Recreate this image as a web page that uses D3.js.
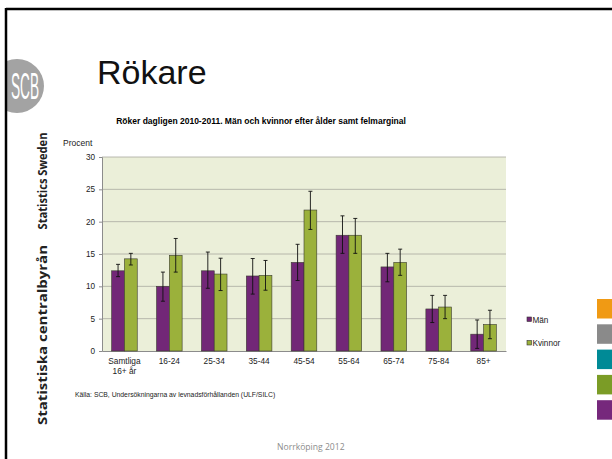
<!DOCTYPE html>
<html>
  <head>
    <title>Rökare</title>
    <style>
      body { margin: 0; background: #fff; }
      svg { display: block; font-family: "Liberation Sans", Arial, sans-serif; }
    </style>
  </head>
  <body>
    <svg class='chart'></svg>
    <script type="text/javascript" src="https://d3js.org/d3.v7.min.js"></script>
    <script type="text/javascript">

// data
var categories = ["Samtliga\n16+ år", "16-24", "25-34", "35-44", "45-54", "55-64", "65-74", "75-84", "85+"]
var series = ["Män", "Kvinnor"]
var man = [12.4, 10.0, 12.4, 11.6, 13.7, 17.9, 13.0, 6.5, 2.6]
var manLow = [11.5, 7.7, 9.7, 8.8, 10.9, 15.1, 10.7, 4.4, 0.4]
var manHigh = [13.4, 12.2, 15.3, 14.3, 16.5, 20.9, 15.1, 8.6, 4.8]
var kvinnor = [14.25, 14.8, 11.9, 11.7, 21.8, 17.9, 13.7, 6.8, 4.1]
var kvinnorLow = [13.3, 12.2, 9.35, 9.4, 18.8, 15.1, 11.7, 5.0, 1.9]
var kvinnorHigh = [15.1, 17.4, 14.35, 14.0, 24.7, 20.5, 15.75, 8.6, 6.3]
var yTicks = [0, 5, 10, 15, 20, 25, 30]
var sideColors = ["#f09a14", "#8a8a8a", "#008a96", "#7b9c26", "#76287c"]

var width = 612
var height = 459
var colors = {"Män": "#722777", "Kvinnor": "#9bb13b"}

var svg = d3.select(".chart")
    .attr("width", width)
    .attr("height", height)

// slide frame
svg.append("line").attr("x1", 6).attr("x2", width).attr("y1", 9).attr("y2", 9)
    .attr("stroke", "#000").attr("stroke-width", 2.5)

// SCB logo, cut by the frame
svg.append("clipPath").attr("id", "logoclip")
    .append("rect").attr("x", 6).attr("y", 0).attr("width", 60).attr("height", 200)
svg.append("circle").attr("cx", 17).attr("cy", 86).attr("r", 27)
    .attr("fill", "#a3a3a3").attr("clip-path", "url(#logoclip)")
svg.append("text")
    .attr("transform", "translate(25,99) scale(0.38,1)")
    .attr("text-anchor", "middle")
    .attr("fill", "#fff")
    .style("font-size", "36px")
    .text("SCB")

svg.append("line").attr("x1", 6).attr("x2", 6).attr("y1", 8).attr("y2", height)
    .attr("stroke", "#000").attr("stroke-width", 2.5)

// vertical brand texts
svg.append("text")
    .attr("transform", "translate(47,181) rotate(-90)")
    .attr("text-anchor", "middle")
    .attr("fill", "#222")
    .style("font-family", "'Open Sans', sans-serif")
    .style("font-weight", "bold")
    .style("font-size", "12.5px")
    .attr("textLength", 97)
    .attr("lengthAdjust", "spacingAndGlyphs")
    .text("Statistics Sweden")
svg.append("text")
    .attr("transform", "translate(47,335) rotate(-90)")
    .attr("text-anchor", "middle")
    .attr("fill", "#222")
    .style("font-family", "'Open Sans', sans-serif")
    .style("font-weight", "bold")
    .style("font-size", "12.5px")
    .attr("textLength", 180)
    .attr("lengthAdjust", "spacingAndGlyphs")
    .text("Statistiska centralbyrån")

// coloured squares on the right
svg.append("g").selectAll("rect")
    .data(sideColors)
    .enter().append("rect")
    .attr("x", 597)
    .attr("y", function(d, i) { return 299 + i * 25.3 })
    .attr("width", 16)
    .attr("height", 19.5)
    .attr("fill", function(d) { return d })

svg.append("text")
    .attr("x", 97).attr("y", 84)
    .style("font-size", "34px")
    .attr("fill", "#111")
    .text("Rökare")

svg.append("text")
    .attr("x", 261).attr("y", 124)
    .attr("text-anchor", "middle")
    .style("font-size", "8.5px")
    .style("font-weight", "bold")
    .text("Röker dagligen 2010-2011. Män och kvinnor efter ålder samt felmarginal")

svg.append("text")
    .attr("x", 63).attr("y", 146)
    .style("font-size", "8.5px")
    .attr("fill", "#222")
    .text("Procent")

// plot
var plot = {left: 102, right: 506, top: 157, bottom: 351}

var x0 = d3.scaleBand()
    .domain(categories)
    .range([plot.left, plot.right])
    .paddingInner(0.43)
    .paddingOuter(0.215)

var x1 = d3.scaleBand()
    .domain(series)
    .range([0, x0.bandwidth()])

var y = d3.scaleLinear()
    .domain([0, 30])
    .range([plot.bottom, plot.top])

svg.append("rect")
    .attr("x", plot.left).attr("y", plot.top)
    .attr("width", plot.right - plot.left)
    .attr("height", plot.bottom - plot.top)
    .attr("fill", "#ebefd9")

svg.append("g").selectAll("line")
    .data(yTicks.slice(1))
    .enter().append("line")
    .attr("x1", plot.left).attr("x2", plot.right)
    .attr("y1", function(d) { return y(d) }).attr("y2", function(d) { return y(d) })
    .attr("stroke", "#a8a8a0").attr("stroke-width", 0.8)

var yAxis = svg.append("g")
    .attr("transform", "translate(" + plot.left + ",0)")
    .call(d3.axisLeft(y).tickValues(yTicks).tickSize(3).tickPadding(4))
yAxis.select(".domain").attr("stroke", "#8c8c8c")
yAxis.selectAll(".tick line").attr("stroke", "#8c8c8c")
yAxis.selectAll("text").style("font-size", "8.2px").attr("fill", "#222")
    .style("font-family", "'Liberation Sans', Arial, sans-serif")

var xAxis = svg.append("g")
    .attr("transform", "translate(0," + plot.bottom + ")")
    .call(d3.axisBottom(x0).tickSize(0).tickPadding(7))
xAxis.select(".domain").attr("stroke", "#8c8c8c")
xAxis.selectAll("text")
    .style("font-size", "8.3px").attr("fill", "#222")
    .style("font-family", "'Liberation Sans', Arial, sans-serif")
    .each(function(d) {
        var t = d3.select(this)
        var lines = d.split("\n")
        t.text(null)
        lines.forEach(function(l, i) {
            t.append("tspan").attr("x", 0).attr("dy", i == 0 ? "0.71em" : "1.2em").text(l)
        })
    })

var rows = categories.map(function(c, i) {
    return [
        {cat: c, s: "Män", v: man[i], lo: manLow[i], hi: manHigh[i]},
        {cat: c, s: "Kvinnor", v: kvinnor[i], lo: kvinnorLow[i], hi: kvinnorHigh[i]}
    ]
})

var groups = svg.append("g").selectAll("g")
    .data(rows)
    .enter().append("g")
    .attr("transform", function(d, i) { return "translate(" + x0(categories[i]) + ",0)" })

groups.selectAll("rect")
    .data(function(d) { return d })
    .enter().append("rect")
    .attr("x", function(d) { return x1(d.s) })
    .attr("y", function(d) { return y(d.v) })
    .attr("width", x1.bandwidth())
    .attr("height", function(d) { return y(0) - y(d.v) })
    .attr("fill", function(d) { return colors[d.s] })
    .attr("stroke", "#3a3a30")
    .attr("stroke-width", 0.6)

var err = groups.selectAll("g.err")
    .data(function(d) { return d })
    .enter().append("g").attr("class", "err")
    .attr("stroke", "#111").attr("stroke-width", 0.9)

err.append("line")
    .attr("x1", function(d) { return x1(d.s) + x1.bandwidth() / 2 })
    .attr("x2", function(d) { return x1(d.s) + x1.bandwidth() / 2 })
    .attr("y1", function(d) { return y(d.lo) })
    .attr("y2", function(d) { return y(d.hi) })
err.append("line")
    .attr("x1", function(d) { return x1(d.s) + x1.bandwidth() / 2 - 2 })
    .attr("x2", function(d) { return x1(d.s) + x1.bandwidth() / 2 + 2 })
    .attr("y1", function(d) { return y(d.lo) })
    .attr("y2", function(d) { return y(d.lo) })
err.append("line")
    .attr("x1", function(d) { return x1(d.s) + x1.bandwidth() / 2 - 2 })
    .attr("x2", function(d) { return x1(d.s) + x1.bandwidth() / 2 + 2 })
    .attr("y1", function(d) { return y(d.hi) })
    .attr("y2", function(d) { return y(d.hi) })

// legend
var legend = svg.append("g").selectAll("g")
    .data(series)
    .enter().append("g")
    .attr("transform", function(d, i) { return "translate(527," + (317 + i * 23.5) + ")" })
legend.append("rect")
    .attr("width", 4.5).attr("height", 4.5)
    .attr("fill", function(d) { return colors[d] })
    .attr("stroke", "#333").attr("stroke-width", 0.6)
legend.append("text")
    .attr("x", 5.5).attr("y", 5.5)
    .style("font-size", "8.2px")
    .attr("fill", "#222")
    .text(function(d) { return d })

svg.append("text")
    .attr("x", 75).attr("y", 397)
    .style("font-size", "6.8px")
    .attr("fill", "#222")
    .text("Källa: SCB, Undersökningarna av levnadsförhållanden (ULF/SILC)")

svg.append("text")
    .attr("x", 277).attr("y", 450)
    .style("font-family", "'Open Sans', sans-serif")
    .style("font-size", "8.6px")
    .attr("fill", "#8c8c8c")
    .text("Norrköping 2012")

    </script>
  </body>
</html>
